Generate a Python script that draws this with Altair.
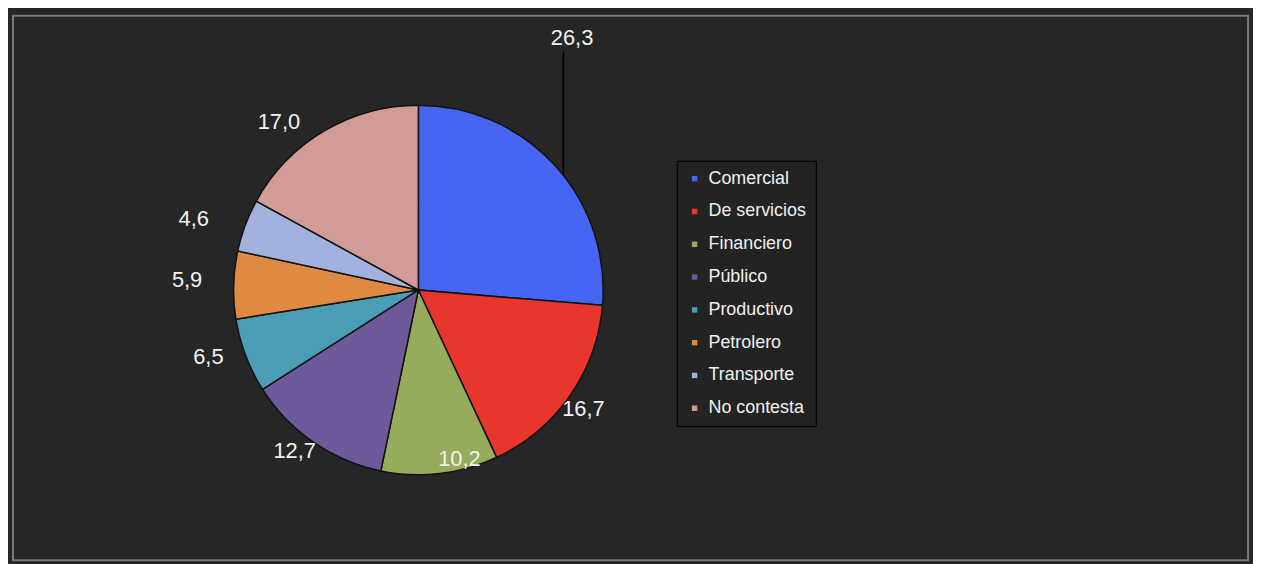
import altair as alt
import pandas as pd

# ---- data ----
categories = ["Comercial", "De servicios", "Financiero", "Público",
              "Productivo", "Petrolero", "Transporte", "No contesta"]
values = [26.3, 16.7, 10.2, 12.7, 6.5, 5.9, 4.6, 17.0]
colors = ["#4565F2", "#E8362C", "#97AC5B", "#6E5A9A",
          "#4A9DB5", "#DE8A42", "#A2B1DE", "#D39B98"]

# ---- layout (label placement only) ----
label_radius = {"Comercial": 297, "De servicios": 205, "Financiero": 175, "Público": 204,
                "Productivo": 222, "Petrolero": 233, "Transporte": 237, "No contesta": 220}
label_shift = {"Comercial": -16, "De servicios": 1, "Financiero": -7, "Público": 3,
               "Productivo": 3, "Petrolero": 1, "Transporte": -3, "No contesta": -9}

total = sum(values)
CX, CY, R = 408, 276, 186
FONT = "Liberation Sans"


def lookup_expr(mapping, default=0):
    expr = str(default)
    for k, v in mapping.items():
        expr = f"(datum.category === '{k}' ? {v} : {expr})"
    return expr


df = pd.DataFrame({"category": categories, "value": values,
                   "order": list(range(len(categories)))})

theta_scale = alt.Scale(domain=[0, total])

pie = alt.Chart(df).mark_arc(outerRadius=R, stroke="#111111", strokeWidth=1.5).encode(
    theta=alt.Theta("value:Q", stack=True, scale=theta_scale),
    color=alt.Color(
        "category:N", sort=categories,
        scale=alt.Scale(domain=categories, range=colors),
        legend=alt.Legend(
            title=None, orient="none", legendX=668, legendY=146,
            fillColor="#232323", strokeColor="#000000", padding=9,
            labelFontSize=18, labelColor="#f0f0f0", labelFont=FONT,
            symbolType="square", symbolSize=30, symbolStrokeWidth=0,
            rowPadding=15, labelOffset=5,
        ),
    ),
    order=alt.Order("order:Q"),
    x=alt.value(CX), y=alt.value(CY),
)

labels = alt.Chart(df).transform_window(
    cum="sum(value)", sort=[alt.SortField("order")], frame=[None, 0]
).transform_calculate(
    mid=f"datum.cum - datum.value / 2 + {lookup_expr(label_shift)} * {total} / 360",
    lr=lookup_expr(label_radius, 205),
    txt="replace(format(datum.value, '.1f'), '.', ',')",
).mark_text(font=FONT, fontSize=22, color="#f2f2f2", align="center", baseline="middle").encode(
    theta=alt.Theta("mid:Q", stack=None, scale=theta_scale),
    radius=alt.Radius("lr:Q", scale=None),
    text="txt:N",
    x=alt.value(CX), y=alt.value(CY),
)

leader = alt.Chart(pd.DataFrame({"k": [0]})).mark_rule(color="#000000", strokeWidth=1.5).encode(
    x=alt.value(554), y=alt.value(36), y2=alt.value(160)
)

chart = alt.layer(pie, leader, labels).properties(
    width=1243, height=548, background="#262626",
    padding={"left": 5, "top": 6, "right": 5, "bottom": 2},
    autosize=alt.AutoSizeParams(type="none"),
).configure_view(stroke="#7a7a7a", strokeWidth=2)

chart.save("out.html", embed_options={"renderer": "svg", "actions": False})
